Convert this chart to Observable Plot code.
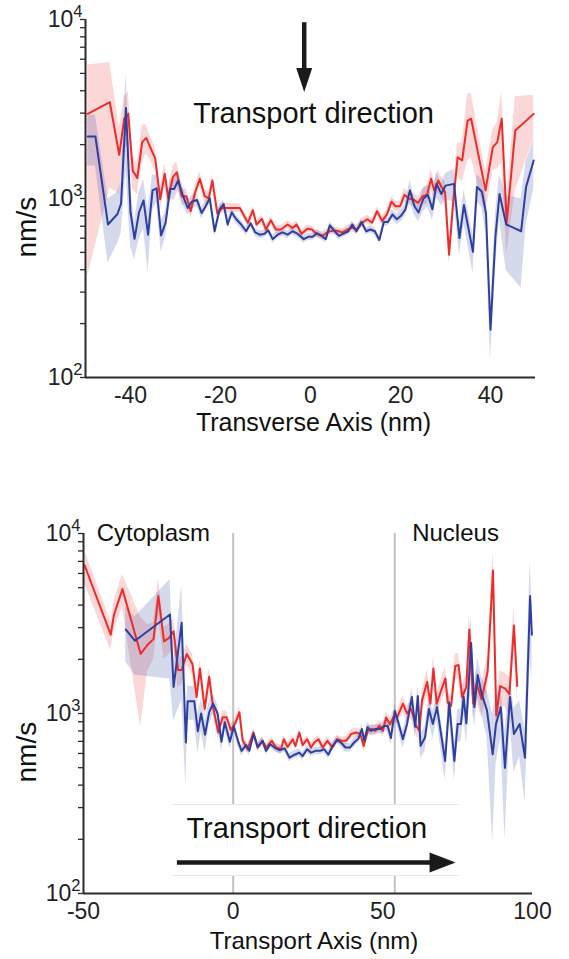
<!DOCTYPE html>
<html><head><meta charset="utf-8">
<script src="https://cdn.jsdelivr.net/npm/d3@7"></script>
<script src="https://cdn.jsdelivr.net/npm/@observablehq/plot@0.6"></script>
<style>
body{margin:0;background:#fff;}
#fig{position:relative;width:569px;height:959px;}
#fig svg{position:absolute;left:0;}
</style></head><body><div id="fig"></div>
<script>
// ---------- Top panel: Transverse axis ----------
const transRedX = [-49.5,-44.6,-42.5,-41.4,-40.5,-39.5,-38.5,-37.4,-36.5,-35.6,-34.5,-33.4,-32.4,-31.6,-30.6,-29.7,-28.6,-27.6,-26.6,-25.7,-24.6,-23.5,-22.6,-21.8,-20.7,-19.6,-18.6,-17.6,-16.7,-15.7,-13.9,-12.8,-12.0,-10.8,-9.9,-8.8,-7.7,-6.6,-5.1,-4.0,-3.1,-2.0,-0.7,0.3,1.3,2.7,3.8,4.9,6.0,7.1,8.2,9.3,10.4,11.5,12.6,13.7,14.8,15.9,17.0,18.0,18.9,19.9,20.9,21.8,22.9,23.9,24.9,25.9,26.8,27.5,28.4,29.1,29.9,30.8,31.7,32.7,33.7,34.9,35.7,38.9,40.5,41.5,42.5,43.6,45.5,49.6];
const transRed  = [2970,3450,1755,2790,2970,1430,1300,2065,2180,1930,1670,990,1375,1000,1315,1400,1030,1030,850,1070,1290,1030,1000,1260,825,885,885,885,885,885,733,860,716,770,671,755,671,671,716,685,716,636,678,671,636,619,650,660,660,645,671,685,671,733,766,733,850,750,815,960,905,905,1050,1000,985,945,1030,1050,1290,1110,1260,1160,1090,485,945,1700,1630,2720,2790,1110,1930,2065,2790,733,2400,2970];
const transRedErr = [2600,2300,700,900,1000,300,250,500,400,300,250,150,200,120,200,200,120,100,80,100,120,90,90,100,60,60,55,50,50,50,40,45,40,40,35,40,35,35,35,35,35,30,30,30,30,30,30,30,30,30,35,35,35,40,40,40,50,45,50,70,60,60,90,80,80,80,100,120,180,120,180,150,150,60,150,350,400,1100,1100,300,500,600,1200,250,1300,800];

const transBlueX = [-49.5,-47.8,-45.0,-42.9,-42.1,-41.0,-40.0,-39.1,-38.1,-37.1,-36.1,-35.1,-34.2,-33.2,-32.2,-31.2,-30.3,-29.4,-28.4,-27.3,-26.4,-25.2,-24.2,-23.3,-22.4,-21.3,-20.2,-19.3,-18.4,-17.5,-16.5,-15.4,-14.3,-13.3,-12.3,-11.3,-10.2,-9.4,-8.4,-7.3,-6.2,-5.1,-4.0,-2.9,-1.5,-0.4,0.5,1.4,2.4,3.4,4.3,5.4,6.3,7.3,8.4,9.3,10.2,11.3,12.4,13.3,14.3,15.3,16.3,17.2,18.2,19.2,20.1,21.1,22.1,23.1,24.0,25.1,26.1,27.1,28.0,29.1,30.0,31.9,33.1,34.1,36.1,37.0,38.1,39.0,40.0,41.1,42.0,43.5,46.8,47.9,49.6];
const transBlue  = [2220,2220,716,819,936,3200,838,596,838,975,628,1110,1140,622,733,1130,1130,1260,1045,885,960,980,830,905,1005,656,870,930,716,835,766,716,656,727,647,628,636,665,593,628,647,628,656,636,593,612,612,640,619,593,708,656,619,636,656,716,656,739,656,671,656,587,739,739,815,766,800,870,1110,905,835,1000,1045,870,1207,1060,1180,1207,601,920,503,1160,1090,830,185,614,1060,716,656,1160,1630];
const transBlueErr = [700,700,280,260,300,1800,300,140,250,300,240,250,200,120,120,150,150,150,120,80,80,80,60,60,70,40,50,50,40,45,40,40,35,35,30,30,30,30,30,30,30,30,30,30,28,28,28,28,28,28,32,30,30,30,30,35,30,35,30,30,30,30,40,40,50,50,60,70,150,100,90,150,150,120,200,150,200,250,120,200,120,200,200,200,60,200,300,320,340,450,500];

// ---------- Bottom panel: Transport axis ----------
const axRedX = [-49.6,-40.9,-39.8,-37.0,-30.9,-28.6,-26.6,-25.0,-23.1,-21.4,-19.9,-18.4,-17.2,-15.5,-13.6,-12.2,-11.1,-9.5,-8.0,-6.7,-5.0,-3.5,-2.2,-0.8,0.6,2.1,3.2,4.8,6.8,8.2,9.8,11.0,12.9,14.3,16.0,16.9,18.2,19.9,20.8,22.1,23.2,24.7,26.0,27.1,28.5,29.9,31.5,33.2,34.7,36.3,37.7,39.4,41.1,42.5,43.6,45.0,46.3,47.5,48.9,50.0,51.1,52.4,53.6,54.9,56.7,58.1,59.4,61.1,62.2,63.1,64.8,65.9,66.9,68.0,69.3,70.9,71.7,72.8,74.2,75.3,76.5,77.9,78.9,80.2,81.3,83.0,85.0,86.8,87.9,89.2,90.9,92.3,93.8,94.9];
const axRed  = [6640,2740,3550,4910,2140,2410,2590,4500,2515,2630,2860,1745,1745,2140,1885,1235,1780,1060,1600,1085,785,953,953,810,875,1017,705,633,785,647,705,647,705,647,633,720,652,720,660,785,668,720,647,690,720,647,705,647,720,705,705,769,785,769,660,802,820,802,856,800,950,870,960,960,1134,1000,1060,856,802,1183,1500,1134,1780,1134,1317,1566,1150,1100,1838,1860,1235,1405,2930,1134,1470,1200,1706,6220,975,1420,1376,1280,3080,1424];
const axRedErr = [1400,500,700,1000,1300,700,600,1100,500,500,500,350,300,300,250,150,200,120,180,100,70,80,80,60,60,80,40,35,40,35,35,35,35,35,35,35,35,35,35,40,35,35,35,35,35,35,35,35,35,35,40,40,45,45,45,50,50,50,60,60,70,70,80,80,120,100,120,100,100,150,250,150,300,150,200,250,150,150,300,300,200,250,600,200,300,250,400,1800,250,300,300,300,800,300];

const axBlueX = [-35.9,-32.8,-21.1,-19.9,-17.2,-15.8,-15.2,-13.0,-11.8,-10.7,-9.4,-8.0,-6.7,-5.2,-3.9,-2.8,-1.1,0.2,1.6,2.8,4.3,5.4,6.8,8.2,9.8,11.0,12.4,13.8,15.5,17.2,18.8,20.5,22.1,23.2,24.7,26.0,27.5,29.1,30.4,31.8,33.2,34.7,36.0,37.5,39.0,40.4,41.9,43.0,43.8,44.9,46.0,47.5,49.0,50.3,51.6,52.7,54.0,55.1,56.7,58.1,59.7,60.8,61.7,62.6,64.1,65.4,66.7,68.1,70.8,72.2,73.9,75.0,76.1,77.0,77.9,79.5,80.6,81.7,83.0,84.8,86.7,87.8,89.4,90.8,92.5,93.8,95.7,97.5,99.2,99.8];
const axBlue  = [2930,2535,3550,1405,3190,690,1168,1168,796,1000,762,1017,1134,1000,696,894,696,850,705,620,668,620,769,652,705,620,675,647,625,640,569,590,606,580,633,606,620,620,633,590,660,712,690,647,647,690,727,820,705,840,802,820,820,850,856,730,1030,900,720,875,1235,844,1250,661,736,1060,875,1085,545,1150,545,875,875,1235,882,2465,1085,1635,1290,1040,593,875,1085,499,1235,769,875,568,4500,2740];
const axBlueErr = [1000,900,2000,500,2000,300,250,250,200,200,150,150,150,120,80,80,60,60,50,40,35,35,40,35,35,30,30,30,30,30,30,30,30,30,30,30,30,30,30,30,35,35,35,35,35,40,40,50,45,50,50,50,50,60,60,60,100,80,80,100,150,120,180,100,120,150,150,180,120,200,120,180,180,250,200,1000,250,400,300,300,400,350,350,300,350,300,300,250,2500,1200];

// tick labels & annotations
const transTicks = [-40, -20, 0, 20, 40];
const axTicks = [-50, 0, 50, 100];
const decades = [100, 1000, 10000];
const regionBounds = [0, 54];
const regionLabels = [{x: -45.6, label: "Cytoplasm"}, {x: 59.8, label: "Nucleus"}];

const RED = "#ee2b2b", BLUE = "#2f3f9f", AXIS = "#2b2b2b";
const FONT = "'Liberation Sans', Arial, Helvetica, sans-serif";

const rows = (xs, vs, es) => xs.map((x, i) => ({x, v: vs[i], lo: vs[i] - es[i], hi: vs[i] + es[i]}));
const minorTicks = [];
for (const k of [100, 1000]) for (let m = 1; m <= 9; ++m) minorTicks.push(k * m);
minorTicks.push(10000);

const headDown = {draw(ctx) { ctx.moveTo(0, 0); ctx.lineTo(-8, -24); ctx.lineTo(8, -24); ctx.closePath(); }};
const headRight = {draw(ctx) { ctx.moveTo(0, 0); ctx.lineTo(-26, -10); ctx.lineTo(-26, 10); ctx.closePath(); }};

function yAxes() {
  return [
    Plot.axisY({ticks: minorTicks, tickSize: 5, tickFormat: () => "", stroke: AXIS, strokeWidth: 1.3}),
    Plot.axisY({ticks: decades, tickSize: 0, tickPadding: 3, fontSize: 23, fill: "#222",
      tickFormat: d => "10^" + Math.round(Math.log10(d))})
  ];
}
function seriesMarks(red, blue) {
  return [
    Plot.areaY(red, {x: "x", y1: "lo", y2: "hi", fill: RED, fillOpacity: 0.19, clip: true}),
    Plot.areaY(blue, {x: "x", y1: "lo", y2: "hi", fill: BLUE, fillOpacity: 0.2, clip: true}),
    Plot.line(red, {x: "x", y: "v", stroke: RED, strokeWidth: 2}),
    Plot.line(blue, {x: "x", y: "v", stroke: BLUE, strokeWidth: 2})
  ];
}
function superscripts(svg) {
  svg.querySelectorAll("text").forEach(t => {
    const m = /^10\^(\d)$/.exec(t.textContent.trim());
    if (!m) return;
    t.textContent = "";
    const a = document.createElementNS("http://www.w3.org/2000/svg", "tspan");
    a.textContent = "10";
    const b = document.createElementNS("http://www.w3.org/2000/svg", "tspan");
    b.textContent = m[1];
    b.setAttribute("dy", "-10");
    b.setAttribute("font-size", "16.5");
    t.append(a, b);
  });
}

const topPlot = Plot.plot({
  width: 569, height: 460,
  marginLeft: 85, marginRight: 34, marginTop: 19, marginBottom: 83,
  style: {fontFamily: FONT, fontSize: "23px", color: "#222", background: "transparent", overflow: "visible"},
  x: {domain: [-50, 50], label: null},
  y: {type: "log", domain: [100, 10000], label: null},
  marks: [
    ...seriesMarks(rows(transRedX, transRed, transRedErr), rows(transBlueX, transBlue, transBlueErr)),
    Plot.ruleX([-50], {stroke: AXIS, strokeWidth: 2}),
    Plot.ruleY([100], {stroke: AXIS, strokeWidth: 2}),
    ...yAxes(),
    Plot.axisX({ticks: transTicks, tickSize: 0, tickPadding: 9, fontSize: 23, fill: "#222", label: null, tickFormat: d => String(d)}),
    Plot.link([{x: -1.4, y1: 9660, y2: 4600}], {x1: "x", x2: "x", y1: "y1", y2: "y2", stroke: "#1a1a1a", strokeWidth: 4.5}),
    Plot.dot([{x: -1.4, y: 3930}], {x: "x", y: "y", symbol: headDown, fill: "#1a1a1a", stroke: "none"}),
    Plot.text(["Transport direction"], {x: () => 0.7, y: () => 2960, text: d => d, fontSize: 29, fill: "#111"}),
    Plot.text(["nm/s"], {frameAnchor: "left", text: d => d, rotate: -90, dx: -58, dy: 59, fontSize: 28, fill: "#111"}),
    Plot.text(["Transverse Axis (nm)"], {frameAnchor: "bottom", text: d => d, dx: 3, dy: 53, fontSize: 25, fill: "#111"})
  ]
});

const box = {x1: -20.5, x2: 75.5, y1: 126, y2: 312};
const bottomPlot = Plot.plot({
  width: 569, height: 499,
  marginLeft: 83, marginRight: 37, marginTop: 73, marginBottom: 66,
  style: {fontFamily: FONT, fontSize: "23px", color: "#222", background: "transparent", overflow: "visible"},
  x: {domain: [-50, 100], label: null},
  y: {type: "log", domain: [100, 10000], label: null},
  marks: [
    Plot.ruleX(regionBounds, {stroke: "#c2c2c2", strokeWidth: 2}),
    Plot.rect([box], {x1: "x1", x2: "x2", y1: "y1", y2: "y2", fill: "white"}),
    Plot.ruleY([box.y1, box.y2], {x1: box.x1, x2: box.x2, stroke: "#e9e9e9", strokeWidth: 1}),
    ...seriesMarks(rows(axRedX, axRed, axRedErr), rows(axBlueX, axBlue, axBlueErr)),
    Plot.ruleX([-50], {stroke: AXIS, strokeWidth: 2}),
    Plot.ruleY([100], {stroke: AXIS, strokeWidth: 2}),
    ...yAxes(),
    Plot.axisX({ticks: axTicks, tickSize: 0, tickPadding: 9, fontSize: 23, fill: "#222", label: null, tickFormat: d => String(d)}),
    Plot.text(regionLabels, {x: "x", y: () => 10000, text: "label", textAnchor: "start", fontSize: 24, fill: "#111"}),
    Plot.text(["Transport direction"], {x: () => 24.6, y: () => 228, text: d => d, fontSize: 29, fill: "#111"}),
    Plot.link([{x1: -18.8, x2: 71, y: 148.6}], {x1: "x1", x2: "x2", y1: "y", y2: "y", stroke: "#1a1a1a", strokeWidth: 4.5}),
    Plot.dot([{x: 74.3, y: 148.6}], {x: "x", y: "y", symbol: headRight, fill: "#1a1a1a", stroke: "none"}),
    Plot.text(["nm/s"], {frameAnchor: "left", text: d => d, rotate: -90, dx: -56, dy: 69, fontSize: 28, fill: "#111"}),
    Plot.text(["Transport Axis (nm)"], {frameAnchor: "bottom", text: d => d, dx: 6, dy: 55, fontSize: 24, fill: "#111"})
  ]
});

superscripts(topPlot);
superscripts(bottomPlot);
topPlot.style.top = "0px";
bottomPlot.style.top = "460px";
document.getElementById("fig").append(topPlot, bottomPlot);
</script>
</body></html>
